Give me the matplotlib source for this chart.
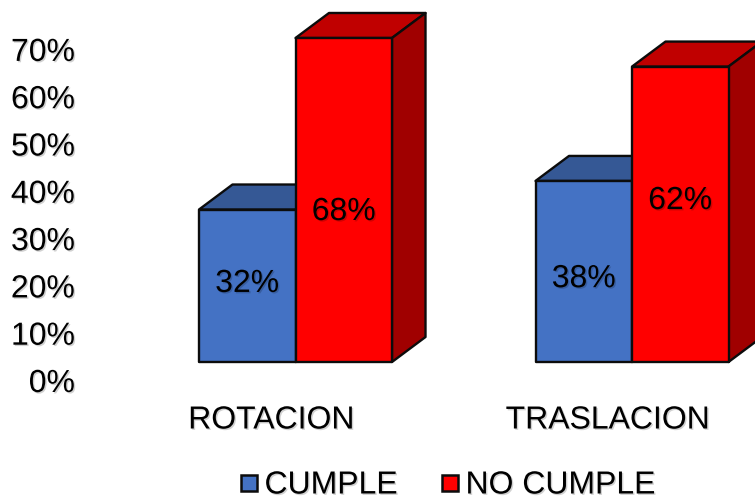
import matplotlib
matplotlib.use("Agg")
import matplotlib.pyplot as plt
import matplotlib.patheffects as pe
from matplotlib.patches import Polygon, Rectangle
from matplotlib.transforms import ScaledTranslation

categories = ["ROTACION", "TRASLACION"]
cumple = [32, 38]
no_cumple = [68, 62]
y_ticks = [0, 10, 20, 30, 40, 50, 60, 70]
series_names = ["CUMPLE", "NO CUMPLE"]

W, H = 755, 500
DPI = 100
PX_X = 336.5       # pixels per category
PX_Y = 4.765       # pixels per percentage point
ORIGIN_X = 295.5
BASE_Y = 362
BAR_W = 96.5 / PX_X
DEPTH_X = 33.5 / PX_X
DEPTH_Y = 25 / PX_Y
TICK_STEP = 4.73 / PX_Y  # tick labels run on a slightly tighter spacing than the boxes
TEXT_NUDGE = 2           # optical vertical correction for centred text, in pixels
FONT = "Liberation Sans"

# Vertical placement of the value labels inside each box, in axis units
cumple_label_y = [16.8, 17.8]
no_cumple_label_y = [31.9, 34.2]

colors = {
    "CUMPLE": ("#4472C4", "#355895", "#2F4F86"),
    "NO CUMPLE": ("#FF0000", "#C00000", "#A00000"),
}

fig = plt.figure(figsize=(W / DPI, H / DPI), dpi=DPI)
ax = fig.add_axes([0, 0, 1, 1])
ax.set_xlim(-ORIGIN_X / PX_X, (W - ORIGIN_X) / PX_X)
ax.set_ylim(-(H - BASE_Y) / PX_Y, BASE_Y / PX_Y)
ax.axis("off")


def box(left, value, palette):
    front, top, side = palette
    right = left + BAR_W
    kw = dict(edgecolor="#0c0c0c", linewidth=1.7, joinstyle="round")
    ax.add_patch(Polygon([(left, value), (right, value),
                          (right + DEPTH_X, value + DEPTH_Y), (left + DEPTH_X, value + DEPTH_Y)],
                         facecolor=top, **kw))
    ax.add_patch(Polygon([(right, 0), (right + DEPTH_X, DEPTH_Y),
                          (right + DEPTH_X, value + DEPTH_Y), (right, value)],
                         facecolor=side, **kw))
    ax.add_patch(Rectangle((left, 0), BAR_W, value, facecolor=front, **kw))


def label(x, y, text, dy=0, **kw):
    offset = ScaledTranslation(0, -(dy + TEXT_NUDGE) / DPI, fig.dpi_scale_trans)
    t = ax.text(x, y, text, transform=ax.transData + offset, family=FONT,
                fontsize=kw.pop("fontsize", 23), color="black", va="center", **kw)
    t.set_path_effects([pe.withSimplePatchShadow(offset=(1, -1), shadow_rgbFace="black", alpha=0.18)])


for i, (a, b) in enumerate(zip(cumple, no_cumple)):
    box(i - BAR_W, a, colors["CUMPLE"])
    box(i, b, colors["NO CUMPLE"])
    label(i - BAR_W / 2, cumple_label_y[i], f"{a}%", ha="center")
    label(i + BAR_W / 2, no_cumple_label_y[i], f"{b}%", ha="center")
    label(i - 24 / PX_X, 0, categories[i], dy=56.5, ha="center")

# Tick labels sit below the box floor because of the depth
for t in y_ticks:
    label((75 - ORIGIN_X) / PX_X, t * TICK_STEP, f"{t}%", dy=20, ha="right")

# Legend
for name, px in zip(series_names, (241, 442)):
    ax.add_patch(Rectangle(((px - ORIGIN_X) / PX_X, -(491 - BASE_Y) / PX_Y), 16 / PX_X, 16 / PX_Y,
                           facecolor=colors[name][0], edgecolor="#0c0c0c", linewidth=1.8))
    label((px + 23.5 - ORIGIN_X) / PX_X, 0, name, dy=121.5, ha="left")

fig.savefig("out.png", dpi=DPI)
